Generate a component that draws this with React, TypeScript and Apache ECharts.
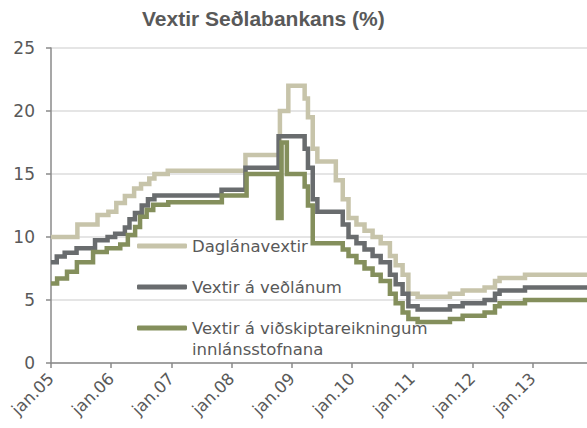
import React, { useEffect, useRef } from "react";
import * as echarts from "echarts";

const TITLE = "Vextir Seðlabankans (%)";
const SERIES_NAMES = ["Daglánavextir", "Vextir á veðlánum", "Vextir á viðskiptareikningum"];
const LEGEND_SECOND_LINE = "innlánsstofnana";
const X_MIN = "2005-01-01";
const X_MAX = "2013-11-25";
const Y_TICKS = [0, 5, 10, 15, 20, 25];

// Daglánavextir (overnight lending rate)
const dagDates = [
  "2005-01-01", "2005-06-10", "2005-10-10", "2005-12-15", "2006-02-01", "2006-03-25",
  "2006-05-20", "2006-07-01", "2006-08-20", "2006-09-20", "2006-12-10", "2008-03-25",
  "2008-10-20", "2008-12-10", "2009-03-19", "2009-04-08", "2009-05-07", "2009-06-04",
  "2009-09-24", "2009-11-05", "2009-12-10", "2010-01-27", "2010-03-17", "2010-05-05",
  "2010-06-23", "2010-08-18", "2010-09-22", "2010-11-03", "2010-12-08", "2011-02-02",
  "2011-08-17", "2011-11-02", "2012-03-14", "2012-05-16", "2012-06-13", "2012-11-14",
  "2013-11-25",
];
const dagValues = [
  10.0, 11.0, 11.75, 12.0, 12.7, 13.25,
  13.85, 14.2, 14.65, 15.0, 15.25, 16.5,
  20.0, 22.0, 21.0, 19.5, 17.0, 16.0,
  14.5, 13.0, 11.5, 11.0, 10.5, 10.0,
  9.5, 8.5, 7.75, 7.0, 5.5, 5.25,
  5.5, 5.75, 6.0, 6.5, 6.75, 7.0,
  7.0,
];

// Vextir á veðlánum (collateral loan rate)
const vedDates = [
  "2005-01-01", "2005-02-05", "2005-03-25", "2005-06-05", "2005-09-25", "2005-12-10",
  "2006-01-25", "2006-03-25", "2006-04-22", "2006-05-25", "2006-07-05", "2006-08-12",
  "2006-09-20", "2007-11-01", "2008-03-25", "2008-10-12", "2009-03-19", "2009-04-08",
  "2009-05-07", "2009-06-04", "2009-11-05", "2009-12-10", "2010-01-27", "2010-03-17",
  "2010-05-05", "2010-06-23", "2010-08-18", "2010-09-22", "2010-11-03", "2010-12-08",
  "2011-02-02", "2011-08-17", "2011-11-02", "2012-03-14", "2012-05-16", "2012-06-13",
  "2012-11-14", "2013-11-25",
];
const vedValues = [
  8.0, 8.45, 8.75, 9.1, 9.75, 10.0,
  10.25, 10.75, 11.4, 11.9, 12.5, 13.0,
  13.3, 13.75, 15.5, 18.0, 17.0, 15.5,
  13.0, 12.0, 11.0, 10.0, 9.5, 9.0,
  8.5, 8.0, 7.0, 6.25, 5.5, 4.5,
  4.25, 4.5, 4.75, 5.0, 5.5, 5.75,
  6.0, 6.0,
];

// Vextir á viðskiptareikningum innlánsstofnana (current account rate)
const vidDates = [
  "2005-01-01", "2005-02-07", "2005-04-08", "2005-06-07", "2005-09-13", "2005-12-05",
  "2006-02-25", "2006-04-12", "2006-05-26", "2006-06-25", "2006-08-04", "2006-09-13",
  "2006-12-13", "2007-11-03", "2008-04-01", "2008-10-08", "2008-10-30", "2008-12-01",
  "2009-03-19", "2009-04-08", "2009-05-07", "2009-11-05", "2009-12-10", "2010-01-27",
  "2010-03-17", "2010-05-05", "2010-06-23", "2010-08-18", "2010-09-22", "2010-11-03",
  "2010-12-08", "2011-02-02", "2011-08-17", "2011-11-02", "2012-03-14", "2012-05-16",
  "2012-06-13", "2012-11-14", "2013-11-25",
];
const vidValues = [
  6.3, 6.7, 7.25, 8.0, 8.8, 9.1,
  9.4, 10.15, 10.8, 11.6, 12.15, 12.55,
  12.75, 13.3, 15.0, 11.5, 17.5, 15.0,
  14.0, 12.5, 9.5, 9.0, 8.5, 8.0,
  7.5, 7.0, 6.5, 5.5, 4.75, 4.0,
  3.5, 3.25, 3.5, 3.75, 4.0, 4.5,
  4.75, 5.0, 5.0,
];

const COLORS = ["#C7C4AA", "#696C6E", "#848F5C"];
const TEXT = "#595959";

function pairs(dates: string[], values: number[]) {
  return dates.map((d, i) => [d, values[i]]);
}

export default function App() {
  const ref = useRef<HTMLDivElement>(null);
  useEffect(() => {
    if (!ref.current) return;
    const chart = echarts.init(ref.current, undefined, { renderer: "svg" });
    const data = [pairs(dagDates, dagValues), pairs(vedDates, vedValues), pairs(vidDates, vidValues)];
    const year = 365 * 24 * 3600 * 1000;
    chart.setOption({
      animation: false,
      backgroundColor: "#ffffff",
      title: {
        text: TITLE,
        left: 142,
        top: 8,
        padding: 0,
        textStyle: { fontFamily: "Liberation Sans", fontWeight: "bold", fontSize: 21, color: TEXT },
      },
      grid: { left: 51, right: 0, top: 48, bottom: 65, containLabel: false, outerBoundsMode: "none" },
      legend: {
        orient: "vertical",
        left: 137,
        top: 236,
        padding: 0,
        itemGap: 21,
        itemWidth: 50,
        itemHeight: 5,
        icon: "roundRect",
        data: SERIES_NAMES,
        textStyle: { fontFamily: "DejaVu Sans", fontSize: 16.5, color: TEXT, lineHeight: 20 },
      },
      xAxis: {
        type: "time",
        min: X_MIN,
        max: X_MAX,
        minInterval: year,
        maxInterval: year * 1.01,
        splitLine: { show: false },
        axisLine: { lineStyle: { color: "#8a8a8a", width: 1.5 } },
        axisTick: { show: true, length: 5, lineStyle: { color: "#8a8a8a", width: 1.5 } },
        axisLabel: {
          rotate: 45,
          margin: 13,
          showMaxLabel: false,
          fontFamily: "DejaVu Sans",
          fontSize: 16.5,
          color: TEXT,
          formatter: (v: number) => "jan." + String(new Date(v).getFullYear()).slice(2),
        },
      },
      yAxis: {
        type: "value",
        min: Y_TICKS[0],
        max: Y_TICKS[Y_TICKS.length - 1],
        interval: 5,
        axisLine: { show: true, lineStyle: { color: "#8a8a8a", width: 1.5 } },
        axisTick: { show: true, length: 5, lineStyle: { color: "#8a8a8a", width: 1.5 } },
        splitLine: { lineStyle: { color: "#dcdcdc", width: 1.5 } },
        axisLabel: { margin: 16, fontFamily: "DejaVu Sans", fontSize: 17, color: TEXT },
      },
      graphic: [
        {
          type: "text",
          left: 192,
          top: 341,
          style: { text: LEGEND_SECOND_LINE, font: "16.5px 'DejaVu Sans'", fill: TEXT },
        },
      ],
      series: SERIES_NAMES.map((name, i) => ({
        name,
        type: "line",
        step: "end",
        showSymbol: false,
        symbol: "none",
        data: data[i],
        color: COLORS[i],
        lineStyle: { color: COLORS[i], width: 4.5, cap: "butt", join: "miter" },
      })),
    });
    return () => chart.dispose();
  }, []);
  return <div ref={ref} style={{ position: "fixed", left: 0, top: 0, width: 587, height: 428 }} />;
}
